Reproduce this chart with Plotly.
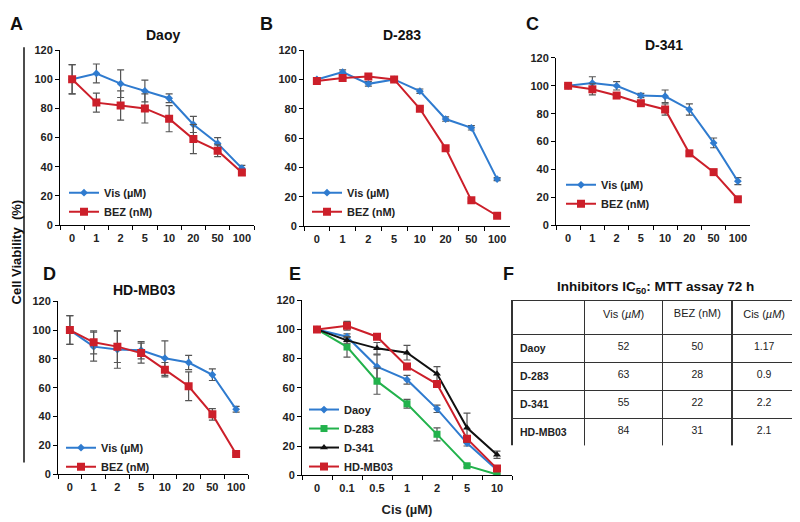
import plotly.graph_objects as go

W, H = 800, 522
OFF = 8  # page body margin shifts the figure, compensate in pixel helpers
FONT = "Liberation Sans, Arial, sans-serif"

BLUE = "#2F7BCF"
RED = "#CC1F2A"
GREEN = "#22B24C"
BLACK = "#111111"
ERR = "#555555"

# --- data -------------------------------------------------------------
doses_nm = ["0", "1", "2", "5", "10", "20", "50", "100"]
cis_doses = ["0", "0.1", "0.5", "1", "2", "5", "10"]

daoy_vis = [100, 104, 97, 92, 87, 69, 56, 39]
daoy_vis_err = [10, 6.5, 9.5, 7.5, 3, 5.5, 4, 2]
daoy_bez = [100, 84, 82, 80, 73, 59, 51, 36]
daoy_bez_err = [10, 6.5, 10, 10, 9, 10, 4, 2]

d283_vis = [100, 105, 97, 100, 92, 73, 67, 32]
d283_vis_err = [1, 1.5, 1.5, 1, 1.5, 1.5, 1.5, 1]
d283_bez = [99, 101, 102, 100, 80, 53, 17.5, 7]
d283_bez_err = [1, 1, 1, 1, 1, 1, 1, 1]

d341_vis = [100, 102, 100, 93, 92.5, 83, 59, 31.5]
d341_vis_err = [1, 4.5, 3, 1.5, 4.5, 4, 3.5, 2.5]
d341_bez = [100, 97.5, 93, 87.5, 83, 51.5, 38, 18.5]
d341_bez_err = [1, 4, 1.5, 1.5, 4, 1.5, 1.5, 1]

hdmb_vis = [100, 88.5, 86.5, 86, 80.5, 77.5, 69, 45]
hdmb_vis_err = [10, 10, 13, 6, 12, 5, 4, 2]
hdmb_bez = [100, 91.5, 88.5, 84, 72.5, 61, 41.5, 14]
hdmb_bez_err = [10, 8, 11, 7, 5, 10, 4, 1]

cis_daoy = [100, 95, 74.5, 65.5, 45.5, 22, 3.5]
cis_daoy_err = [1, 2, 8, 3, 2.5, 2, 1]
cis_d283 = [100, 88, 64.5, 49, 28, 6.5, 0.5]
cis_d283_err = [1, 7, 9, 3, 4.5, 1, 0.5]
cis_d341 = [100, 92.5, 87, 84, 69.5, 32.5, 14]
cis_d341_err = [1, 2, 4, 5, 5, 10, 2.5]
cis_hdmb = [100, 102.5, 95, 74.5, 62.5, 25, 4.5]
cis_hdmb_err = [1, 3, 1.5, 1.5, 2, 2, 1]

table_rows = ["Daoy", "D-283", "D-341", "HD-MB03"]
ic50_vis = ["52", "63", "55", "84"]
ic50_bez = ["50", "28", "22", "31"]
ic50_cis = ["1.17", "0.9", "2.2", "2.1"]


def px_x(p):
    return (p - OFF) / W


def px_y(p):
    return 1 - (p - OFF) / H


fig = go.Figure()


def add_series(n, x, y, err, name, color, symbol, size, legend):
    ax = "" if n == 1 else str(n)
    fig.add_trace(go.Scatter(
        x=x, y=y, name=name, mode="lines+markers",
        xaxis="x" + ax, yaxis="y" + ax, legend=legend,
        line=dict(color=color, width=2),
        marker=dict(color=color, symbol=symbol, size=size),
        error_y=dict(type="data", array=err, color=ERR, thickness=1.2, width=3.5),
    ))


# panels A-D: Vis vs BEZ
panels = [
    (1, daoy_vis, daoy_vis_err, daoy_bez, daoy_bez_err, "legend"),
    (2, d283_vis, d283_vis_err, d283_bez, d283_bez_err, "legend2"),
    (3, d341_vis, d341_vis_err, d341_bez, d341_bez_err, "legend3"),
    (4, hdmb_vis, hdmb_vis_err, hdmb_bez, hdmb_bez_err, "legend4"),
]
for n, v, ve, b, be, lg in panels:
    add_series(n, doses_nm, v, ve, "Vis (µM)", BLUE, "diamond", 6, lg)
    add_series(n, doses_nm, b, be, "BEZ (nM)", RED, "square", 8, lg)

# panel E: cisplatin
add_series(5, cis_doses, cis_daoy, cis_daoy_err, "Daoy", BLUE, "diamond", 6, "legend5")
add_series(5, cis_doses, cis_d283, cis_d283_err, "D-283", GREEN, "square", 7, "legend5")
add_series(5, cis_doses, cis_d341, cis_d341_err, "D-341", BLACK, "triangle-up", 7, "legend5")
add_series(5, cis_doses, cis_hdmb, cis_hdmb_err, "HD-MB03", RED, "square", 8, "legend5")

# panel F: IC50 table
fig.add_trace(go.Table(
    domain=dict(x=[px_x(512), px_x(797)], y=[px_y(450), px_y(301)]),
    columnwidth=[73, 78, 70, 64],
    header=dict(
        values=["", "Vis (<i>µM</i>)", "BEZ (nM)", "Cis (<i>µM</i>)"],
        height=34, align="center", fill_color="white",
        line=dict(color="#333333", width=1.5),
        font=dict(family=FONT, size=11, color="#222222"),
    ),
    cells=dict(
        values=[["<b>%s</b>" % r for r in table_rows], ic50_vis, ic50_bez, ic50_cis],
        height=22, align=["left", "center", "center", "center"], fill_color="white",
        line=dict(color="#333333", width=1.5),
        font=dict(family=FONT, size=10.5, color="#222222"),
    ),
))

# axes geometry in pixels: (x0, x1, ybottom, ytop)
geom = {
    1: (60, 254, 224, 45),
    2: (304, 510, 225, 45),
    3: (556, 750, 224, 53),
    4: (58, 248, 479, 302),
    5: (302, 512, 480, 301),
}
tickfont = dict(family=FONT, size=11, color="#222222", weight="bold")
layout = {}
for n, (x0, x1, yb, yt) in geom.items():
    ax = "" if n == 1 else str(n)
    ncat = len(cis_doses) if n == 5 else len(doses_nm)
    layout["xaxis" + ax] = dict(
        domain=[px_x(x0), px_x(x1)], anchor="y" + ax, type="category",
        range=[-0.5, ncat - 0.5], showline=True, linecolor="black", linewidth=1,
        ticks="outside", tickson="boundaries", ticklen=4, tickcolor="black",
        ticklabelstandoff=3, tickangle=0, showgrid=False, zeroline=False,
        tickfont=tickfont, fixedrange=True,
    )
    layout["yaxis" + ax] = dict(
        domain=[px_y(yb), px_y(yt)], anchor="x" + ax, range=[0, 120],
        tickvals=[0, 20, 40, 60, 80, 100, 120], showline=True, linecolor="black",
        linewidth=1, ticks="outside", ticklen=4, tickcolor="black",
        showgrid=False, zeroline=False, tickfont=tickfont, fixedrange=True,
    )
layout["xaxis5"]["title"] = dict(text="<b>Cis (µM)</b>",
                                 font=dict(family=FONT, size=13, color="#222222"),
                                 standoff=11)

legfont = dict(family=FONT, size=11, color="#222222", weight="bold")
leg_pos = {
    "legend": (64, 176),
    "legend2": (307, 176),
    "legend3": (561, 168),
    "legend4": (61, 437),
    "legend5": (304, 398),
}
for key, (lx, ly) in leg_pos.items():
    layout[key] = dict(
        x=px_x(lx), y=px_y(ly), xanchor="left", yanchor="top",
        bgcolor="rgba(0,0,0,0)", font=legfont, itemwidth=30,
        tracegroupgap=0,
    )

fig.update_layout(**layout)


def label(text, x, y, size, angle=0):
    return dict(text=text, x=px_x(x), y=px_y(y), xref="paper", yref="paper",
                xanchor="center", yanchor="middle", showarrow=False, textangle=angle,
                font=dict(family=FONT, size=size, color="#111111"))


annotations = []
# panel letters
for letter, (lx, ly) in {"A": (16, 18), "B": (266, 18), "C": (532, 18),
                         "D": (49, 274), "E": (295, 274), "F": (508, 274)}.items():
    annotations.append(label("<b>%s</b>" % letter, lx, ly, 18))
# panel titles
for title, (tx, ty) in {"Daoy": (163, 30), "D-283": (402, 30), "D-341": (664, 40),
                        "HD-MB03": (144, 290)}.items():
    annotations.append(label("<b>%s</b>" % title, tx, ty, 14))
annotations.append(label("<b>Inhibitors IC<sub>50</sub>: MTT assay 72 h</b>", 655, 288, 13.5))
annotations.append(label("<b>Cell Viability  (%)</b>", 16, 252, 13, angle=-90))

fig.update_layout(
    width=W, height=H, margin=dict(l=0, r=0, t=0, b=0),
    paper_bgcolor="white", plot_bgcolor="white",
    font=dict(family=FONT, color="#222222"),
    annotations=annotations,
    shapes=[dict(type="line", xref="paper", yref="paper",
                 x0=px_x(24), x1=px_x(24), y0=px_y(42), y1=px_y(467),
                 line=dict(color="#111111", width=1.5))],
)

fig.write_html("out.html")
